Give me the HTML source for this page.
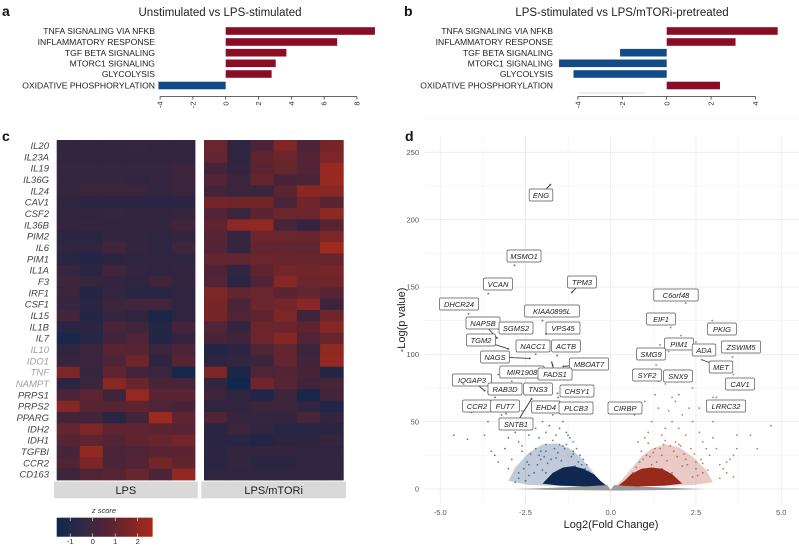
<!DOCTYPE html>
<html><head><meta charset="utf-8"><style>
body{margin:0;background:#fff;}
svg{display:block;font-family:"Liberation Sans",sans-serif;}
</style></head><body>
<svg id="fig" width="799" height="545" viewBox="0 0 799 545">
<g id="pa"></g>
<g id="pb"></g>
<g id="pc"></g>
<g id="pd"></g>
</svg>
<script>
// ---- data ----
const pathways = ["TNFA SIGNALING VIA NFKB","INFLAMMATORY RESPONSE","TGF BETA SIGNALING","MTORC1 SIGNALING","GLYCOLYSIS","OXIDATIVE PHOSPHORYLATION"];
const nesA = [9.1, 6.8, 3.7, 3.05, 2.8, -4.1];
const nesB = [5.0, 3.1, -2.1, -4.85, -4.2, 2.4];
const ticksA = [-4,-2,0,2,4,6,8];
const ticksB = [-4,-2,0,2,4];
const genes = ["IL20","IL23A","IL19","IL36G","IL24","CAV1","CSF2","IL36B","PIM2","IL6","PIM1","IL1A","F3","IRF1","CSF1","IL15","IL1B","IL7","IL10","IDO1","TNF","NAMPT","PRPS1","PRPS2","PPARG","IDH2","IDH1","TGFBI","CCR2","CD163"];
const faded = ["IL10","IDO1","TNF","NAMPT"];
const zLPS = [
[-0.3,-0.3,-0.3,-0.2,-0.3,-0.3],[-0.3,-0.3,-0.3,-0.3,-0.3,-0.3],[-0.2,-0.2,-0.2,-0.2,-0.2,-0.1],[-0.2,-0.2,-0.2,-0.3,-0.2,-0.1],[-0.2,-0.1,-0.1,-0.1,-0.2,-0.1],
[-0.4,-0.6,-0.6,-0.6,-0.6,-0.5],[-0.3,-0.3,-0.2,-0.3,-0.3,-0.2],[-0.3,-0.2,-0.3,-0.3,-0.3,0.1],[-0.5,-0.5,-0.3,-0.3,-0.4,-0.3],[-0.4,-0.4,0.1,-0.3,-0.4,0.0],
[-0.7,-0.8,-0.5,-0.4,-0.4,-0.4],[-0.2,-0.5,0.1,-0.3,-0.4,-0.3],[0.0,-0.2,-0.3,-0.4,0.1,-0.3],[-0.1,-0.8,-0.2,-0.7,-0.7,-0.4],[-0.2,-0.7,-0.1,0.2,0.2,-0.4],
[0.2,-0.8,-0.2,-0.4,-1.2,-0.4],[-0.6,-0.6,0.3,0.0,-0.8,0.2],[-1.3,-0.7,0.1,0.5,-0.8,-0.3],[-0.4,-0.1,0.8,0.7,-0.1,0.4],[-0.2,-0.1,0.5,1.3,-0.4,0.7],
[1.6,-0.2,0.9,0.2,-0.1,-1.5],[-0.6,-0.1,1.9,1.1,0.3,0.3],[0.4,0.9,0.1,2.2,0.8,0.8],[1.8,0.7,0.7,0.9,0.5,0.3],[0.2,0.2,-0.6,0.2,2.4,0.9],
[1.0,1.6,0.9,0.9,0.8,0.7],[0.7,0.9,0.6,0.9,1.1,1.4],[0.3,2.1,0.4,0.5,0.8,0.8],[0.5,1.6,0.4,0.6,1.4,0.9],[0.0,0.5,0.7,1.1,0.4,2.1]];
const zMTORi = [
[1.2,-0.4,0.4,1.7,0.4,1.5],[1.0,-0.4,0.9,1.2,0.6,1.6],[0.2,-0.3,0.8,1.1,0.6,2.3],[0.6,-0.1,1.0,0.3,0.4,2.3],[0.2,-0.1,-0.1,0.8,1.9,1.9],
[1.4,1.3,1.3,0.4,1.3,0.8],[0.6,-0.1,0.8,1.2,1.2,2.0],[0.9,2.0,2.1,0.3,-0.3,0.7],[0.7,-0.2,1.2,1.2,1.1,1.6],[0.6,-0.2,1.0,1.0,0.9,2.4],
[1.0,1.0,1.2,1.1,1.1,1.1],[0.5,-0.3,0.9,1.4,1.3,1.4],[0.6,-0.5,0.5,1.8,1.2,1.3],[1.6,1.0,1.2,0.8,1.0,0.7],[1.5,0.4,1.2,1.4,1.9,-0.1],
[1.5,0.5,0.9,1.6,0.1,1.3],[0.6,-0.3,1.2,1.2,0.9,1.8],[0.3,0.1,1.2,1.8,0.5,1.1],[-0.8,-0.5,0.5,1.0,-0.1,2.1],[-0.5,-0.3,-0.1,1.0,0.1,2.2],
[1.6,-1.2,0.5,0.6,0.3,-0.8],[-0.3,-1.8,1.3,0.7,0.1,0.3],[-0.1,-0.4,-1.0,0.0,-1.3,0.2],[-0.4,-0.3,-0.1,-0.1,-0.4,-1.0],[0.5,-0.2,-0.2,-0.3,0.3,-0.3],
[-0.6,-0.1,-0.3,-0.7,-0.7,-0.5],[-0.6,-0.7,-0.9,-0.5,-0.5,-0.2],[-0.5,-0.3,-0.3,-0.3,-0.4,-0.4],[-0.6,-0.3,-0.5,-0.5,-0.4,-0.4],[-0.4,-0.4,-0.4,-0.4,-0.4,-0.4]];
const zTicks = [-1,0,1,2];
const vGenes = ["ENG","MSMO1","VCAN","TPM3","DHCR24","KIAA0895L","NAPSB","SGMS2","VPS45","TGM2","NACC1","ACTB","NAGS","MBOAT7","MIR1908","FADS1","IQGAP3","RAB3D","TNS3","CHSY1","CCR2","FUT7","EHD4","PLCB3","SNTB1","CIRBP","C6orf48","EIF1","PKIG","PIM1","ADA","ZSWIM5","SMG9","MET","SYF2","SNX9","CAV1","LRRC32"];
const vFC = [-1.77,-2.82,-3.59,-1.14,-4.17,-2.0,-3.33,-2.29,-1.9,-3.0,-1.81,-1.57,-2.37,-1.39,-2.12,-1.73,-3.7,-3.39,-2.32,-1.56,-4.08,-3.07,-1.54,-1.5,-2.32,0.91,2.2,1.76,2.98,2.06,2.5,3.57,1.45,2.67,1.33,2.38,3.6,3.1];
const vP = [226,166,145,146,130,125,112,117,115,104,103,99,97,91,91,94,73,68,67,71,57,56,68,64,67,62,138,120,125,114,109,98,107,96,92,87,85,68];
const lblX = [541,524,498,582,459,552,483,516,563,481,533,566,495,589,522,555,472,505,538,577,477,505,546,576,516,625,676,661,722,679,704,741,651,721,647,678,740,726];
const lblY = [195,256,284,282,304,311,323,328,328,340,346,346,357,364,372,374,380,389,389,391,406,406,407,408,424,408,295,319,329,344,350,347,354,367,375,376,384,406];
const blueFC = [-4.6,-4.2,-3.7,-3.6,-3.7,-3.5,-3.4,-3.3,-3.6,-3.5,-3.1,-3.0,-2.9,-2.8,-2.7,-2.9,-2.6,-2.5,-2.4,-2.3,-2.2,-2.1,-2.0,-1.9,-1.8,-1.7,-1.6,-1.5,-1.4,-1.3,-1.2,-1.1,-3.2,-2.6,-2.0,-1.6,-1.2,-2.8,-3.0,-2.7,-2.4,-2.2,-1.9,-1.0,-0.9,-2.9,-2.3,-2.2,-1.7,-2.5,-1.8,-3.3,-2.1,-1.4,-1.1,-0.8,-2.6,-1.9,-1.5,-1.25,-0.7,-1.65,-2.05,
 -2.45,-2.35,-2.15,-1.95,-1.75,-1.55,-1.35,-1.15,-0.95,-0.85,-0.75,-0.65,-2.55,-2.25,-2.05,-1.85,-1.45,-1.05,-2.7,-2.4,-1.6,-1.3,-0.9,-0.6,-2.8,-2.0,-1.7,-1.2,-0.55,-2.5,-1.9,-1.1];
const blueP  = [40,37,40,50,60,28,25,20,72,80,30,38,45,42,35,22,28,48,40,52,45,38,50,42,47,55,40,45,50,42,38,35,55,58,60,62,58,65,15,12,18,30,33,30,25,80,78,100,92,70,82,85,25,32,28,22,32,28,33,40,18,30,22,
 20,26,18,24,22,27,30,24,20,18,15,13,15,12,28,19,21,17,8,10,23,33,14,10,5,14,36,12,9,6,12,26];
const redFC = [4.7,4.3,4.1,3.7,3.7,3.6,3.5,3.4,3.3,3.2,3.0,2.9,2.8,2.7,2.6,2.5,2.4,2.4,2.3,2.2,2.1,2.0,1.9,1.8,1.7,1.6,1.5,1.4,1.3,1.2,1.1,1.0,0.8,2.0,1.8,1.6,2.2,1.4,1.0,0.7,3.0,2.6,2.5,2.7,3.1,1.5,2.2,3.0,2.3,1.7,2.6,1.9,1.3,2.35,0.9,1.75,2.15,1.05,
 0.65,0.75,0.85,0.95,1.15,1.25,1.35,1.45,1.55,1.65,1.85,1.95,2.05,2.25,2.45,2.55,2.65,2.85,0.6,0.9,1.2,1.5,1.8,2.1,2.4,2.7,3.2,3.4,3.6,1.1,1.6,2.0];
const redP  = [47,30,40,40,30,25,22,20,15,18,38,25,30,35,42,20,50,75,60,40,55,45,65,50,58,45,40,60,70,50,42,38,35,70,68,78,80,80,65,55,50,60,15,12,30,25,22,68,88,102,105,35,30,30,28,32,26,25,
 12,16,20,22,24,27,20,30,33,21,28,24,32,18,26,10,22,14,6,11,18,15,12,17,9,19,8,12,9,34,36,33];
const blueEnvFC = [-0.05,-0.3,-0.6,-0.9,-1.2,-1.6,-2.0,-2.4,-2.8,-3.0,-2.4,-1.8,-1.2,-0.6,-0.2];
const blueEnvP  = [1,6,15,24,30,34,33,27,16,6,3,2.5,2,1.5,1];
const blueCoreFC = [-0.1,-0.3,-0.5,-0.8,-1.1,-1.4,-1.7,-2.0,-1.5,-0.9,-0.3];
const blueCoreP  = [2,6,11,15,17,16,12,4,2.5,2,1.5];
const redEnvFC = [0.1,0.3,0.6,0.9,1.2,1.6,2.0,2.4,2.8,3.0,2.4,1.8,1.2,0.6,0.2];
const redEnvP  = [1,6,15,24,30,33,31,24,14,5,3,2.5,2,1.5,1];
const redCoreFC = [0.2,0.4,0.6,0.9,1.2,1.5,1.8,2.1,1.6,1.0,0.4];
const redCoreP  = [2,6,11,15,16,15,11,4,2.5,2,1.5];
const xTicksV = [-5.0,-2.5,0.0,2.5,5.0];
const yTicksV = [0,50,100,150,200,250];

const NS="http://www.w3.org/2000/svg";
function mk(tag, parent, attrs, text){const e=document.createElementNS(NS,tag);for(const k in attrs)e.setAttribute(k,attrs[k]);if(text!==undefined)e.textContent=text;parent.appendChild(e);return e;}

function barPanel(g, letter, lx, title, tx, vals, ticks, x0, ppu, labelX){
  const xs = v => x0 + v*ppu;
  let t=mk('text',g,{x:lx,y:16,'font-size':14,'font-weight':'bold',fill:'#111'},letter);
  
  
  t=mk('text',g,{x:tx,y:16,'font-size':11.5,'text-anchor':'middle',fill:'#222'},title);
  
  
  const rows=[31,42,52.7,63.3,74,85.5];
  pathways.forEach((p,i)=>{
    const v=vals[i];
    const r=mk('rect',g,{x:Math.min(xs(0),xs(v)),y:rows[i]-3.8,width:Math.abs(xs(v)-xs(0)),height:7.6,fill:v>0?'#8a0d25':'#134b87'});
    
    
    const l=mk('text',g,{x:labelX,y:rows[i]+3.2,'font-size':8.6,'text-anchor':'end',fill:'#222'},p);
    
    
  });
  const ay=96.5;
  const ax=mk('line',g,{x1:xs(ticks[0]),x2:xs(ticks[ticks.length-1]),y1:ay,y2:ay,stroke:'#333','stroke-width':0.8});
  
  
  ticks.forEach(tk=>{
    mk('line',g,{x1:xs(tk),x2:xs(tk),y1:ay,y2:ay+3,stroke:'#333','stroke-width':0.8});
    const tl=mk('text',g,{x:0,y:0,'font-size':7.5,'text-anchor':'end',fill:'#333',transform:`translate(${xs(tk)+2.6},${ay+5}) rotate(-90)`},String(tk));
    
    
  });
}
barPanel(document.getElementById('pa'),'a',2,'Unstimulated vs LPS-stimulated',220,nesA,ticksA,225.7,16.4,155);
barPanel(document.getElementById('pb'),'b',404,'LPS-stimulated vs LPS/mTORi-pretreated',622,nesB,ticksB,666.7,22.2,553);
mk('line',document.getElementById('pb'),{x1:579,x2:645,y1:93,y2:93,stroke:'#c8d2dc','stroke-width':0.8});

const stops=[[-1.6,[16,40,76]],[-0.5,[44,37,66]],[0.5,[78,36,54]],[1.5,[120,37,40]],[2.65,[168,43,28]]];
function zcol(z){
  if(z<=stops[0][0])return `rgb(${stops[0][1]})`;
  for(let i=1;i<stops.length;i++){if(z<=stops[i][0]){const a=stops[i-1],b=stops[i],t=(z-a[0])/(b[0]-a[0]);return 'rgb('+a[1].map((c,k)=>Math.round(c+(b[1][k]-c)*t)).join(',')+')';}}
  return `rgb(${stops[4][1]})`;
}
(function(){
  const g=document.getElementById('pc');
  let t=mk('text',g,{x:2,y:141,'font-size':14,'font-weight':'bold',fill:'#111'},'c');
  
  
  const top=140,bot=480,rh=(bot-top)/genes.length;
  const panels=[[56.7,195,zLPS,'LPS'],[204,343.3,zMTORi,'LPS/mTORi']];
  panels.forEach(([x0,x1,Z,name])=>{
    const cw=(x1-x0)/6;
    Z.forEach((row,i)=>row.forEach((z,j)=>{
      const c=mk('rect',g,{x:x0+j*cw,y:top+i*rh,width:cw+0.4,height:rh+0.4,fill:zcol(z)});
      
      
    }));
    const s=mk('rect',g,{x:x0-2.7,y:481.5,width:x1-x0+5.4,height:16.8,fill:'#d9d9d9'});
    
    
    const st=mk('text',g,{x:(x0+x1)/2,y:494,'font-size':11,'text-anchor':'middle',fill:'#222'},name);
    
    
  });
  genes.forEach((gn,i)=>{
    const l=mk('text',g,{x:49,y:top+(i+0.5)*rh+3.4,'font-size':9.5,'font-style':'italic','text-anchor':'end',fill:faded.includes(gn)?'#a0a0a0':'#444'},gn);
    
    
  });
  const lx=v=>92.7+v*22.5;
  const lt=mk('text',g,{x:104,y:513,'font-size':7.5,'font-style':'italic','text-anchor':'middle',fill:'#333'},'z score');
  
  
  for(let k=0;k<96;k++){
    const z=-1.6+k*(4.25/96);
    mk('rect',g,{x:lx(z),y:517.7,width:1.3,height:19,fill:zcol(z)});
  }
  zTicks.forEach(tk=>{
    mk('line',g,{x1:lx(tk),x2:lx(tk),y1:517.7,y2:521,stroke:'#fff','stroke-width':0.6});
    mk('line',g,{x1:lx(tk),x2:lx(tk),y1:533.5,y2:536.7,stroke:'#fff','stroke-width':0.6});
    const tl=mk('text',g,{x:lx(tk),y:544,'font-size':7.5,'text-anchor':'middle',fill:'#333'},String(tk));
    
    
  });
})();

(function(){
  const g=document.getElementById('pd');
  const X=v=>610.7+v*34.1, Y=v=>489-v*1.347;
  let t=mk('text',g,{x:405,y:141,'font-size':14,'font-weight':'bold',fill:'#111'},'d');
  
  
  for(let v=-6.25;v<=6.25;v+=1.25){ if(X(v)>424&&X(v)<799) mk('line',g,{x1:X(v),x2:X(v),y1:136,y2:505,stroke:Math.abs(v/2.5-Math.round(v/2.5))<0.01?'#e8e8e8':'#f3f3f3','stroke-width':0.7}); }
  for(let v=0;v<=275;v+=25){ mk('line',g,{x1:424,x2:799,y1:Y(v),y2:Y(v),stroke:v%50===0?'#e8e8e8':'#f3f3f3','stroke-width':0.7}); }
  xTicksV.forEach(v=>{const tl=mk('text',g,{x:X(v),y:515,'font-size':7.5,'text-anchor':'middle',fill:'#555'},v.toFixed(1));
    
    });
  yTicksV.forEach(v=>{const tl=mk('text',g,{x:419,y:Y(v)+2.7,'font-size':7.5,'text-anchor':'end',fill:'#555'},String(v));
    
    });
  const xt=mk('text',g,{x:611,y:528,'font-size':11,'text-anchor':'middle',fill:'#222'},'Log2(Fold Change)');
  
  
  const yt=mk('text',g,{x:0,y:0,'font-size':11,'text-anchor':'middle',fill:'#222',transform:'translate(405,320) rotate(-90)'},'-Log(p value)');
  
  
  function poly(fc,p,fill,op,name){const pg=mk('polygon',g,{points:fc.map((f,i)=>X(f)+','+Y(p[i])).join(' '),fill:fill,'fill-opacity':op});
    
    }
  poly(blueEnvFC,blueEnvP,'#4a6890',0.35,'down-density-halo');
  poly(redEnvFC,redEnvP,'#c0675d',0.35,'up-density-halo');
  blueFC.forEach((f,i)=>{const c=mk('circle',g,{cx:X(f),cy:Y(blueP[i]),r:0.9,fill:'#2c4f7c','fill-opacity':0.75});
    
    });
  redFC.forEach((f,i)=>{const c=mk('circle',g,{cx:X(f),cy:Y(redP[i]),r:0.9,fill:'#b04a3e','fill-opacity':0.75});
    
    });
  poly(blueCoreFC,blueCoreP,'#10284f',1,'down-density-core');
  poly(redCoreFC,redCoreP,'#982a1b',1,'up-density-core');
  const gb=mk('path',g,{d:`M${X(-2.8)},${Y(0)} Q${X(-0.8)},${Y(0)-2} ${X(-0.1)},${Y(3)} L${X(0)},${Y(0)+1} L${X(0.1)},${Y(3)} Q${X(0.8)},${Y(0)-2} ${X(2.8)},${Y(0)} Q${X(0)},${Y(0)+3} ${X(-2.8)},${Y(0)}Z`,fill:'#9a9a9a'});
  
  
  vGenes.forEach((gn,i)=>{
    const px=X(vFC[i]),py=Y(vP[i]);
    const c=mk('circle',g,{cx:px,cy:py,r:1,fill:vFC[i]<0?'#6d7f99':'#c08a84'});
    
    
    const w=gn.length*5.2+8, bx=lblX[i], by=lblY[i];
    const dx=px-bx, dy=py-by;
    if(Math.abs(dx)>w/2+4||Math.abs(dy)>10) mk('line',g,{x1:bx,y1:by,x2:px,y2:py,stroke:'#222','stroke-width':0.8});
    const r=mk('rect',g,{x:bx-w/2,y:by-6,width:w,height:12,rx:1.5,fill:'#fff',stroke:'#555','stroke-width':0.7});
    
    
    const tx=mk('text',g,{x:bx,y:by+2.8,'font-size':7.5,'font-style':'italic','text-anchor':'middle',fill:'#222'},gn);
    
    
  });
})();
</script>
</body></html>
